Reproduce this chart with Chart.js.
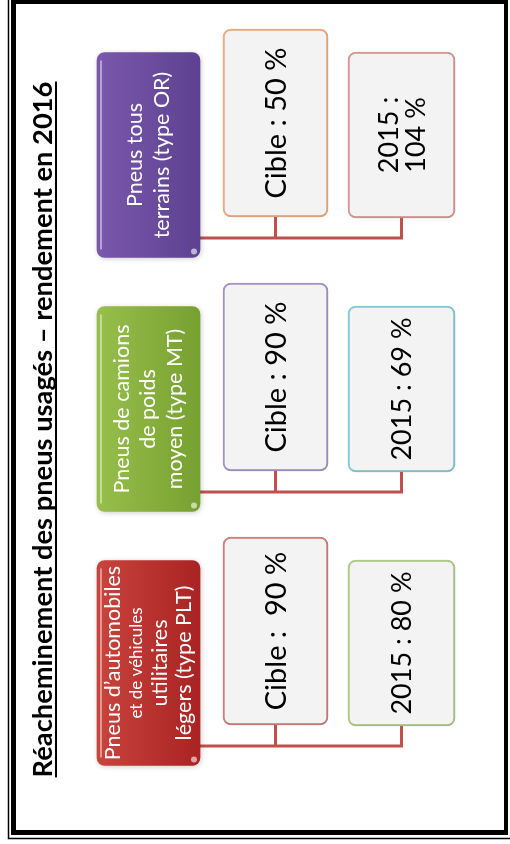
<!DOCTYPE html>
<html lang="fr">
<head>
<meta charset="utf-8">
<script src="https://cdn.jsdelivr.net/npm/chart.js@4.4.1/dist/chart.umd.min.js"></script>
<style>
  html, body { margin: 0; padding: 0; background: #fff; }
  #wrap { width: 510px; height: 844px; }
</style>
</head>
<body>
<div id="wrap"><canvas id="chart" width="510" height="844"></canvas></div>
<script>
const title = 'Réacheminement des pneus usagés – rendement en 2016';
const categories = [
  ['Pneus d’automobiles', 'et de véhicules', 'utilitaires', 'légers (type PLT)'],
  ['Pneus de camions', 'de poids', 'moyen (type MT)'],
  ['Pneus tous', 'terrains (type OR)']
];
const targetValues = [90, 90, 50];
const values2015 = [80, 69, 104];

// layout (page is drawn rotated: groups run bottom -> top)
const STEP = 254;
const HEAD = { x0: 97, x1: 200, c: 663, h: 205 };
const CIBLE = { x0: 223, x1: 328, c: 631, h: 188 };
const Y2015 = { x0: 348, x1: 455, c: 643, h: 166 };
const FONT = 'Lato, "Open Sans", sans-serif';

const headColors = [['#c9443c', '#a82323'], ['#97bf4c', '#76a030'], ['#7a58ac', '#5d4190']];
const cibleBorders = ['#d98384', '#aa9acc', '#f4b183'];
const border2015 = ['#b5d08a', '#8bcfe0', '#e39a9a'];
const smallLines = { 0: [1] };

const boxData = (k) => categories.map((_, i) => ({ x: [k.x0, k.x1], y: k.c - STEP * i }));
const mid = (k) => (k.x0 + k.x1) / 2;

const connectors = [];
categories.forEach((_, i) => {
  const yLine = HEAD.c - STEP * i + 83;
  connectors.push(
    { x: HEAD.x1 - 2, y: yLine }, { x: mid(Y2015), y: yLine }, { x: mid(Y2015), y: Y2015.c - STEP * i + Y2015.h / 2 - 1 },
    { x: null, y: null },
    { x: mid(CIBLE), y: yLine }, { x: mid(CIBLE), y: CIBLE.c - STEP * i + CIBLE.h / 2 - 1 },
    { x: null, y: null }
  );
});

const barBase = {
  type: 'bar', indexAxis: 'y', grouped: false, borderSkipped: false, borderRadius: 8
};

function headGradient(c) {
  const cols = headColors[c.dataIndex] || headColors[0];
  const sx = c.chart.scales.x;
  if (!sx) return cols[1];
  const a = sx.getPixelForValue(HEAD.x0), b = sx.getPixelForValue(HEAD.x1);
  if (!isFinite(a) || !isFinite(b)) return cols[1];
  const g = c.chart.ctx.createLinearGradient(a, 0, b, 0);
  g.addColorStop(0, cols[0]);
  g.addColorStop(1, cols[1]);
  return g;
}

function rotatedLines(ctx, lines, cx, cy, lh, color) {
  ctx.save();
  ctx.translate(cx, cy);
  ctx.rotate(-Math.PI / 2);
  ctx.fillStyle = color;
  ctx.textAlign = 'center';
  ctx.textBaseline = 'middle';
  const n = lines.length;
  lines.forEach((ln, k) => {
    ctx.font = ln.font;
    ctx.fillText(ln.text, 0, (k - (n - 1) / 2) * lh);
  });
  ctx.restore();
}

const decor = {
  id: 'decor',
  beforeDraw(chart) {
    const ctx = chart.ctx;
    ctx.save();
    ctx.fillStyle = '#fff';
    ctx.fillRect(0, 0, chart.width, chart.height);
    ctx.fillStyle = '#000';
    ctx.fillRect(11, 0, 497, 4);
    ctx.fillRect(11, 0, 5, 835);
    ctx.fillRect(11, 830, 497, 5);
    ctx.fillRect(504, 0, 4, 835);
    ctx.lineWidth = 1.5;
    ctx.strokeStyle = '#000';
    ctx.beginPath();
    ctx.moveTo(8.5, 0); ctx.lineTo(8.5, 838.5); ctx.lineTo(510, 838.5);
    ctx.stroke();

    // title, bottom-to-top
    ctx.translate(52, 429.5);
    ctx.rotate(-Math.PI / 2);
    ctx.font = 'bold 28px ' + FONT;
    const size = 28 * 695 / ctx.measureText(title).width;
    ctx.font = 'bold ' + size.toFixed(1) + 'px ' + FONT;
    const w = ctx.measureText(title).width;
    ctx.textAlign = 'center';
    ctx.textBaseline = 'alphabetic';
    ctx.fillText(title, 0, 0);
    ctx.fillRect(-w / 2, 3, w, 2);
    ctx.restore();
  },
  beforeDatasetDraw(chart, args) {
    if (chart.data.datasets[args.index].type !== 'bar') return;
    const ctx = chart.ctx;
    ctx.save();
    ctx.shadowColor = 'rgba(0,0,0,0.2)';
    ctx.shadowBlur = 5;
    ctx.shadowOffsetX = 1;
    ctx.shadowOffsetY = 1;
  },
  afterDatasetDraw(chart, args) {
    if (chart.data.datasets[args.index].type !== 'bar') return;
    chart.ctx.restore();
  },
  afterDatasetsDraw(chart) {
    const ctx = chart.ctx;
    const centre = (el) => ({ x: (el.x + el.base) / 2, y: el.y, len: el.height });

    // header boxes: bevel highlight + white text
    chart.getDatasetMeta(0).data.forEach((el, i) => {
      const c = centre(el);
      const left = Math.min(el.x, el.base);
      ctx.save();
      ctx.strokeStyle = 'rgba(255,255,255,0.45)';
      ctx.lineWidth = 2;
      ctx.beginPath();
      ctx.moveTo(left + 4, c.y - c.len / 2 + 8);
      ctx.lineTo(left + 4, c.y + c.len / 2 - 8);
      ctx.stroke();
      ctx.fillStyle = 'rgba(255,255,255,0.6)';
      ctx.beginPath();
      ctx.arc(Math.max(el.x, el.base) - 6, c.y + c.len / 2 - 6, 3, 0, Math.PI * 2);
      ctx.fill();
      ctx.restore();
      const small = smallLines[i] || [];
      const lines = categories[i].map((t, k) => ({ text: t, font: (small.includes(k) ? '17px ' : '21.5px ') + FONT }));
      rotatedLines(ctx, lines, c.x, c.y, lines.length > 3 ? 23.5 : 26.5, '#fff');
    });

    chart.getDatasetMeta(1).data.forEach((el, i) => {
      const c = centre(el);
      const txt = 'Cible : ' + (i === 0 ? ' ' : '') + targetValues[i] + ' %';
      rotatedLines(ctx, [{ text: txt, font: '29px ' + FONT }], c.x + 1, c.y, 28, '#000');
    });

    chart.getDatasetMeta(2).data.forEach((el, i) => {
      const c = centre(el);
      const font = '27px ' + FONT;
      ctx.font = font;
      const full = '2015 : ' + values2015[i] + ' %';
      const lines = ctx.measureText(full).width > c.len - 20
        ? [{ text: '2015 :', font }, { text: values2015[i] + ' %', font }]
        : [{ text: full, font }];
      rotatedLines(ctx, lines, c.x + 1, c.y, 27, '#000');
    });
  }
};

new Chart(document.getElementById('chart'), {
  data: {
    datasets: [
      Object.assign({}, barBase, {
        label: 'Catégorie', data: boxData(HEAD), barThickness: HEAD.h,
        backgroundColor: headGradient, borderWidth: 0
      }),
      Object.assign({}, barBase, {
        label: 'Cible 2016', data: boxData(CIBLE), barThickness: CIBLE.h,
        backgroundColor: '#f3f3f3', borderColor: cibleBorders, borderWidth: 2
      }),
      Object.assign({}, barBase, {
        label: '2015', data: boxData(Y2015), barThickness: Y2015.h,
        backgroundColor: '#f3f3f3', borderColor: border2015, borderWidth: 2
      }),
      {
        type: 'line', label: 'liens', data: connectors, order: 10,
        borderColor: '#c0504d', borderWidth: 3, pointRadius: 0, spanGaps: false, tension: 0
      }
    ]
  },
  options: {
    responsive: false,
    animation: false,
    layout: { padding: 0 },
    scales: {
      x: { type: 'linear', min: 0, max: 510, offset: false, display: false },
      y: { type: 'linear', min: 0, max: 844, reverse: true, offset: false, display: false }
    },
    plugins: { legend: { display: false }, tooltip: { enabled: false } }
  },
  plugins: [decor]
});
</script>
</body>
</html>
